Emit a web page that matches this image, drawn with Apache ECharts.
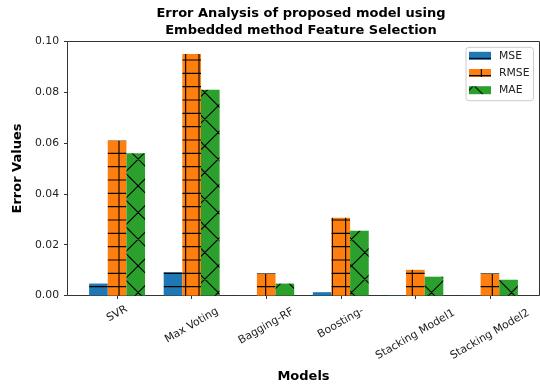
<!DOCTYPE html>
<html><head><meta charset="utf-8">
<script src="https://cdn.jsdelivr.net/npm/echarts@6/dist/echarts.min.js"></script>
<style>html,body{margin:0;padding:0;background:#fff}#c{width:540px;height:389px}</style>
</head><body><div id="c"></div>
<script>
const categories = ['SVR', 'Max Voting', 'Bagging-RF', 'Boosting-', 'Stacking Model1', 'Stacking Model2'];
const seriesNames = ['MSE', 'RMSE', 'MAE'];
const mseValues = [0.0047, 0.0092, 0.000076, 0.0013, 0.0001, 0.000076];
const rmseValues = [0.0610, 0.0951, 0.0087, 0.0306, 0.0101, 0.0087];
const maeValues = [0.0560, 0.0810, 0.0047, 0.0255, 0.0074, 0.0062];
const yTicks = [0, 0.02, 0.04, 0.06, 0.08, 0.10];

const FONT = 'DejaVu Sans';
const TICK_FS = 10.8;

function tile(size, bg, draw) {
  const c = document.createElement('canvas');
  c.width = size; c.height = size;
  const g = c.getContext('2d');
  g.fillStyle = bg; g.fillRect(0, 0, size, size);
  g.strokeStyle = '#000'; g.lineWidth = 1.1;
  g.beginPath(); draw(g); g.stroke();
  return c;
}
const P = 40 / 3;
const blueTile = tile(40, '#1f77b4', g => {
  for (let k = 0; k < 3; k++) { const y = 6.67 + k * P; g.moveTo(0, y); g.lineTo(40, y); }
});
const orangeTile = tile(40, '#ff7f0e', g => {
  for (let k = 0; k < 3; k++) { const y = 6.67 + k * P; g.moveTo(0, y); g.lineTo(40, y); }
  for (let k = 0; k < 3; k++) { const x = 12.33 + k * P; g.moveTo(x, 0); g.lineTo(x, 40); }
});
const D = 80 / 3;
const greenTile = tile(80, '#2ca02c', g => {
  for (let k = -6; k <= 12; k++) { const c = 4 + k * D; g.moveTo(-20, c + 20); g.lineTo(100, c - 100); }
  for (let k = -6; k <= 12; k++) { const c = 21 + k * D; g.moveTo(-20, c - 20); g.lineTo(100, c + 100); }
});
const fills = [
  { image: blueTile, repeat: 'repeat' },
  { image: orangeTile, repeat: 'repeat' },
  { image: greenTile, repeat: 'repeat' }
];

// centre rotated labels like matplotlib (ha=center, rotation=30)
const LBL_LH = 13;
const mc = document.createElement('canvas').getContext('2d');
mc.font = TICK_FS + 'px "' + FONT + '"';
const catData = categories.map(name => {
  const w = mc.measureText(name).width;
  const d = 11.5 + 0.308 * w;
  return { value: name, textStyle: { align: 'center', verticalAlign: 'top', lineHeight: LBL_LH, padding: [0.866 * d - LBL_LH / 2, d, 0, 0] } };
});

const gridTop = 41.5, gridH = 254;
const chart = echarts.init(document.getElementById('c'), null, { renderer: 'canvas' });
chart.setOption({
  animation: false,
  backgroundColor: '#fff',
  title: {
    text: 'Error Analysis of proposed model using\nEmbedded method Feature Selection',
    left: 301, top: 5, textAlign: 'center', padding: 0,
    textStyle: { fontFamily: FONT, fontSize: 13, fontWeight: 'bold', color: '#000', lineHeight: 17 }
  },
  legend: {
    data: seriesNames, orient: 'vertical', left: 466, top: 47.3,
    itemWidth: 22, itemHeight: 8, itemGap: 5.2, icon: 'rect',
    padding: [2.5, 4, 4.5, 3], borderColor: '#ccc', borderWidth: 1, borderRadius: 3,
    backgroundColor: 'rgba(255,255,255,0.8)',
    textStyle: { fontFamily: FONT, fontSize: TICK_FS, color: '#222', lineHeight: 12, padding: [0, 0, 0, 3] }
  },
  grid: [
    { left: 67.5, top: gridTop, width: 472, height: gridH, show: true, borderColor: '#333', borderWidth: 1, backgroundColor: 'transparent', containLabel: false, outerBoundsMode: 'none' },
    { left: 79.8, top: gridTop, width: 447.4, height: gridH, containLabel: false, outerBoundsMode: 'none' }
  ],
  xAxis: [
    { type: 'value', gridIndex: 0, show: false, min: 0, max: 1 },
    {
      type: 'category', gridIndex: 1, data: catData,
      axisLine: { show: false },
      axisTick: { show: true, alignWithLabel: true, length: 3.5, lineStyle: { color: '#333' } },
      axisLabel: { interval: 0, rotate: 30, margin: 0, fontFamily: FONT, fontSize: TICK_FS, color: '#222' },
      name: 'Models', nameLocation: 'middle', nameGap: 75,
      nameTextStyle: { fontFamily: FONT, fontSize: 13, fontWeight: 'bold', color: '#000' }
    }
  ],
  yAxis: [
    { type: 'value', gridIndex: 0, show: false, min: 0, max: 1 },
    {
      type: 'value', gridIndex: 1, min: yTicks[0], max: yTicks[yTicks.length - 1], interval: yTicks[1] - yTicks[0],
      offset: 12.3,
      axisLine: { show: false },
      axisTick: { show: true, length: 3.5, lineStyle: { color: '#333' } },
      splitLine: { show: false },
      axisLabel: { margin: 8.5, formatter: v => v.toFixed(2), fontFamily: FONT, fontSize: TICK_FS, color: '#222' },
      name: 'Error Values', nameLocation: 'middle', nameGap: 39,
      nameTextStyle: { fontFamily: FONT, fontSize: 13, fontWeight: 'bold', color: '#000' }
    }
  ],
  series: [mseValues, rmseValues, maeValues].map((vals, i) => ({
    name: seriesNames[i], type: 'bar', xAxisIndex: 1, yAxisIndex: 1,
    data: vals, barWidth: 18.64, barGap: '0%',
    itemStyle: { color: fills[i] },
    emphasis: { disabled: true }
  }))
});
</script></body></html>
